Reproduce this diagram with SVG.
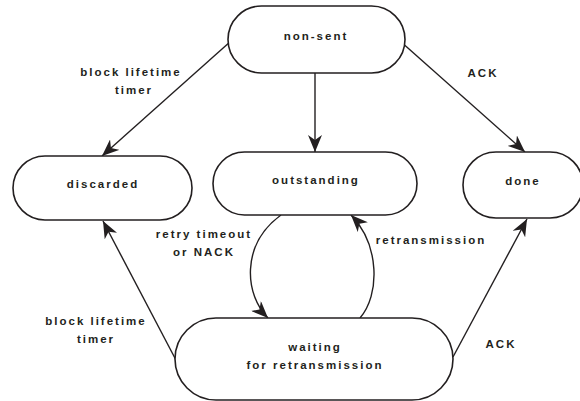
<svg xmlns="http://www.w3.org/2000/svg" width="580" height="401" viewBox="0 0 580 401">
<style>
.n{fill:#fff;stroke:#231f20;stroke-width:1.6}
.t{font-family:"Liberation Sans",Arial,sans-serif;font-weight:bold;font-size:11.5px;letter-spacing:2px;fill:#231f20;text-anchor:middle}
.e{fill:none;stroke:#231f20;stroke-width:1.4;marker-end:url(#ah)}
</style>
<defs>
<marker id="ah" markerUnits="userSpaceOnUse" markerWidth="18" markerHeight="14" refX="17" refY="7" orient="auto" viewBox="0 0 18 14">
<path d="M0,0 L17,7 L0,14 L5,7 z" fill="#231f20"/>
</marker>
</defs>
<rect width="580" height="401" fill="#fff"/>
<g id="edges">
<path class="e" d="M231,41 L102,156"/>
<path class="e" d="M315,73 L315,152"/>
<path class="e" d="M400,41 L525,152"/>
<path class="e" d="M177,362 L103,221"/>
<path class="e" d="M453,357 L527,219"/>
<path class="e" d="M281,215 C240,245 245,295 268,318"/>
<path class="e" d="M360,318 C380,295 380,245 351,215"/>
<text class="t" x="131" y="76">block lifetime</text>
<text class="t" x="134" y="94">timer</text>
<text class="t" x="483" y="77">ACK</text>
<text class="t" x="204" y="238">retry timeout</text>
<text class="t" x="204" y="256">or NACK</text>
<text class="t" x="431" y="244">retransmission</text>
<text class="t" x="96" y="325">block lifetime</text>
<text class="t" x="96" y="343">timer</text>
<text class="t" x="501" y="348">ACK</text>
</g>
<g id="non-sent">
<rect class="n" x="228" y="6" width="177" height="67" rx="33.5"/>
<text class="t" x="316" y="40">non-sent</text>
</g>
<g id="discarded">
<rect class="n" x="13" y="156" width="179" height="64" rx="32"/>
<text class="t" x="103" y="188">discarded</text>
</g>
<g id="outstanding">
<rect class="n" x="213" y="152" width="204" height="63" rx="31.5"/>
<text class="t" x="316" y="184">outstanding</text>
</g>
<g id="done">
<rect class="n" x="463" y="152" width="120" height="66" rx="33"/>
<text class="t" x="523" y="185">done</text>
</g>
<g id="waiting">
<rect class="n" x="175" y="318" width="278" height="82" rx="41"/>
<text class="t" x="315" y="351">waiting</text>
<text class="t" x="315" y="369">for retransmission</text>
</g>
</svg>
